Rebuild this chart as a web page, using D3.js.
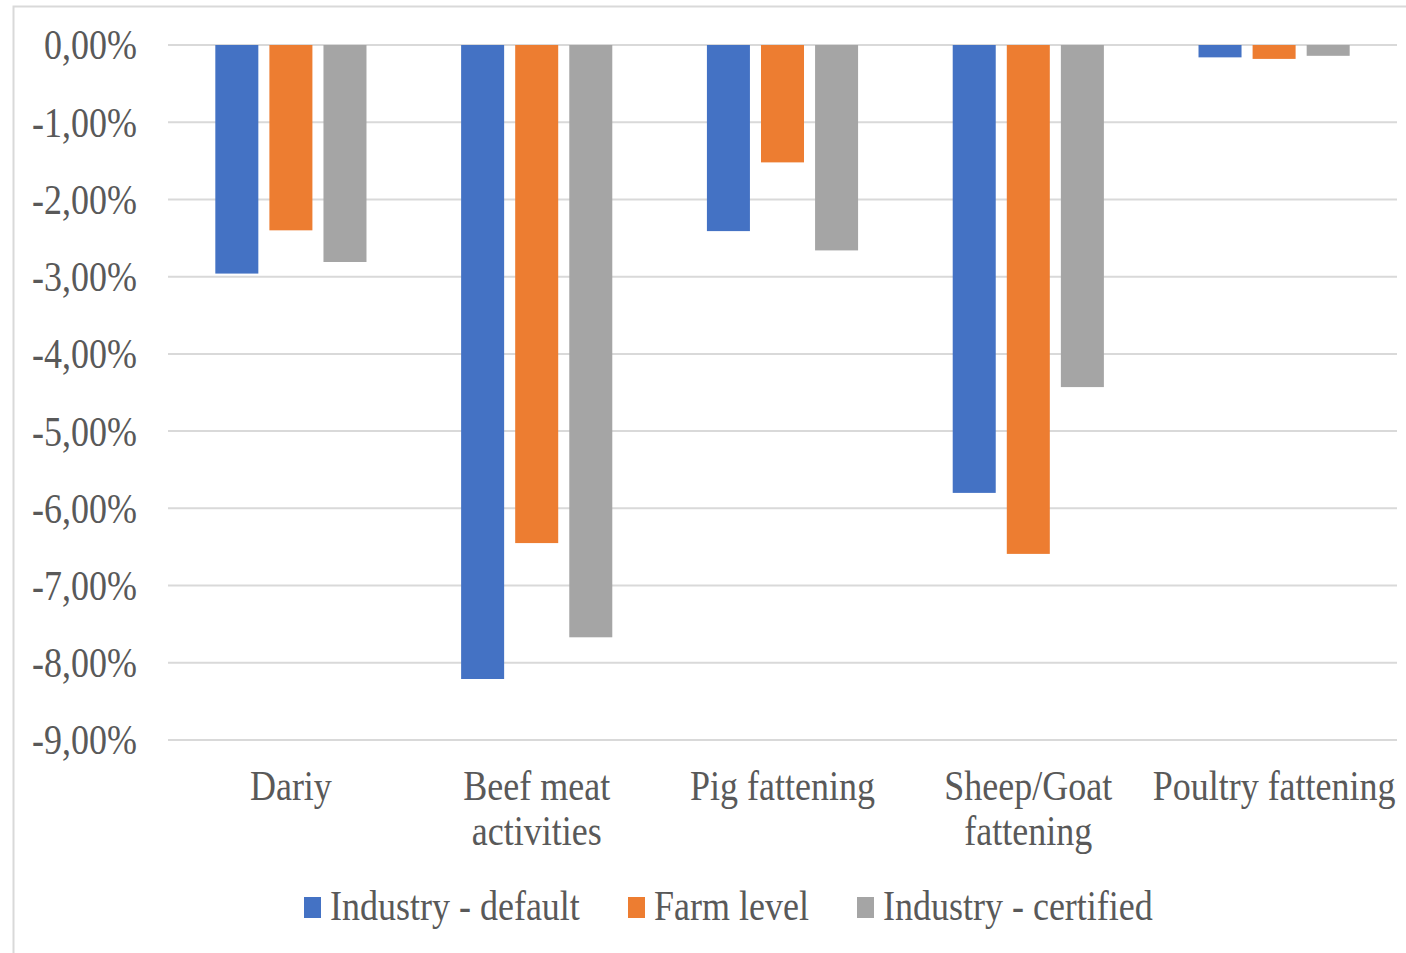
<!DOCTYPE html>
<html>
<head>
<meta charset="utf-8">
<script src="https://cdn.jsdelivr.net/npm/d3@7"></script>
<style>
  html, body { margin: 0; padding: 0; background: #fff; }
  svg { display: block; }
  text { font-family: "Liberation Serif", "Times New Roman", serif; fill: #595959; }
</style>
</head>
<body>
<svg id="chart" width="1406" height="953"></svg>
<script>
// Chart data
const categories = [["Dariy"], ["Beef meat", "activities"], ["Pig fattening"], ["Sheep/Goat", "fattening"], ["Poultry fattening"]];
const seriesNames = ["Industry - default", "Farm level", "Industry - certified"];
const industryDefault = [-2.96, -8.21, -2.41, -5.80, -0.16];
const farmLevel = [-2.40, -6.45, -1.52, -6.59, -0.18];
const industryCertified = [-2.81, -7.67, -2.66, -4.43, -0.14];
const yTicks = [0, -1, -2, -3, -4, -5, -6, -7, -8, -9];
const colors = ["#4472C4", "#ED7D31", "#A5A5A5"];

const seriesValues = [industryDefault, farmLevel, industryCertified];

const svg = d3.select("#chart");
const plot = { left: 168, right: 1397, top: 45, bottom: 740 };
const stretch = 1.15; // vertical stretch of the serif glyphs

// Outer frame
svg.append("rect")
  .attr("x", 13.5).attr("y", 6.5)
  .attr("width", 1420).attr("height", 970)
  .attr("fill", "none").attr("stroke", "#d9d9d9").attr("stroke-width", 2);

const y = d3.scaleLinear().domain([0, -9]).range([plot.top, plot.bottom]);
const x0 = d3.scaleBand().domain(d3.range(categories.length)).range([plot.left, plot.right]);
const bandW = x0.bandwidth();
const barW = bandW * 0.175;
const barStep = bandW * 0.22;

// Gridlines
svg.append("g").selectAll("line").data(yTicks).join("line")
  .attr("x1", plot.left).attr("x2", plot.right)
  .attr("y1", d => y(d)).attr("y2", d => y(d))
  .attr("stroke", "#d9d9d9").attr("stroke-width", 2);

// Y tick labels
const fmt = v => v.toFixed(2).replace(".", ",").replace(/^0,/, "0,") + "%";
svg.append("g").selectAll("text").data(yTicks).join("text")
  .attr("transform", d => `translate(137,${y(d)}) scale(1,${stretch})`)
  .attr("text-anchor", "end")
  .attr("dominant-baseline", "central")
  .attr("font-size", 36)
  .text(d => (d === 0 ? "0,00%" : fmt(d)));

// Bars
seriesValues.forEach((vals, si) => {
  svg.append("g").selectAll("rect").data(vals).join("rect")
    .attr("x", (d, i) => x0(i) + bandW / 2 + (si - 1) * barStep - barW / 2)
    .attr("y", d => y(Math.max(0, d)))
    .attr("width", barW)
    .attr("height", d => Math.abs(y(d) - y(0)))
    .attr("fill", colors[si]);
});

// Category labels
const catG = svg.append("g");
categories.forEach((lines, i) => {
  lines.forEach((line, li) => {
    catG.append("text")
      .attr("transform", `translate(${x0(i) + bandW / 2},${786 + li * 45}) scale(1,${stretch})`)
      .attr("text-anchor", "middle")
      .attr("dominant-baseline", "central")
      .attr("font-size", 36)
      .text(line);
  });
});

// Legend
const legendX = [304, 628, 857];
const legend = svg.append("g");
seriesNames.forEach((name, i) => {
  legend.append("rect")
    .attr("x", legendX[i]).attr("y", 897)
    .attr("width", 17).attr("height", 21)
    .attr("fill", colors[i]);
  legend.append("text")
    .attr("transform", `translate(${legendX[i] + 26},${906}) scale(1,${stretch})`)
    .attr("dominant-baseline", "central")
    .attr("font-size", 36)
    .text(name);
});
</script>
</body>
</html>
